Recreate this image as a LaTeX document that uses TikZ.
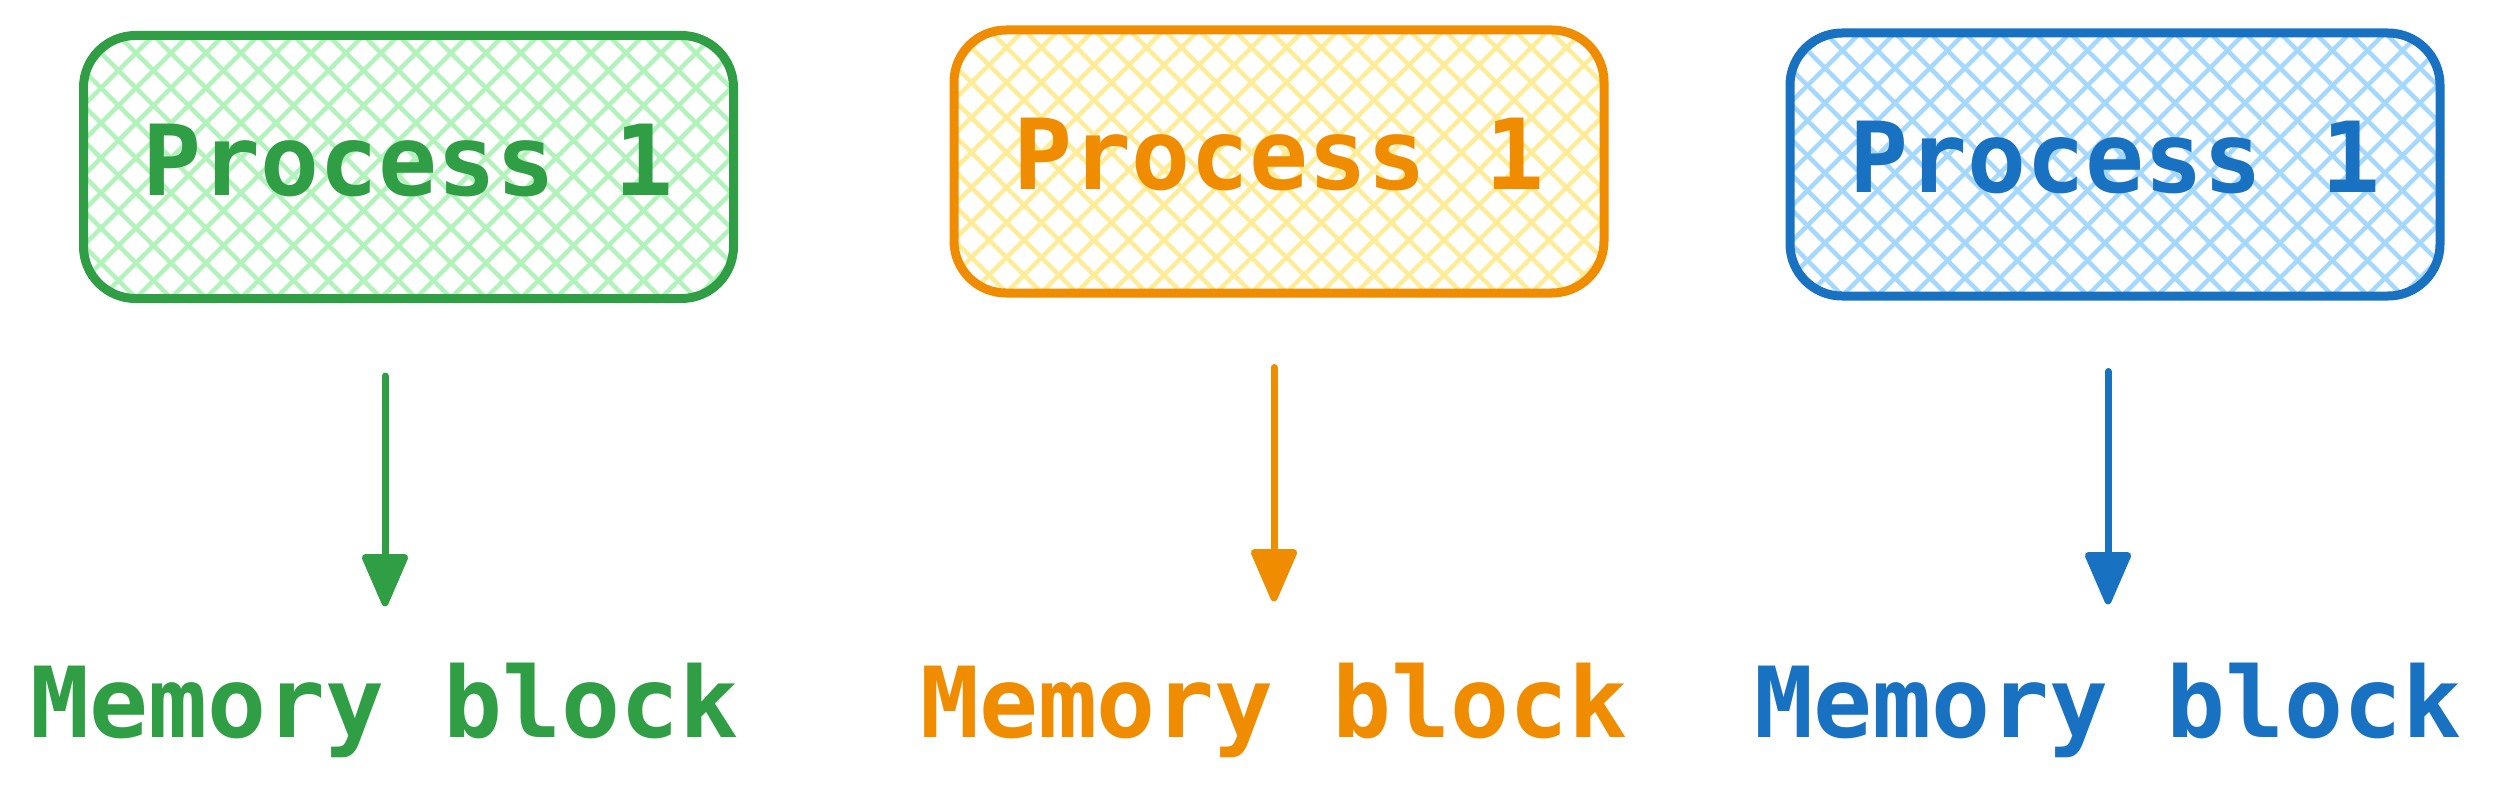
\documentclass[tikz,border=0pt]{standalone}
\usepackage{fontspec}
\newfontfamily\handfamily{DejaVu Sans Mono}
\newcommand\handfont{\handfamily\bfseries\fontsize{98pt}{118pt}\selectfont}
\usetikzlibrary{arrows.meta}
\definecolor{gS}{HTML}{2F9E44}
\definecolor{gH}{HTML}{B2F2BB}
\definecolor{oS}{HTML}{F08C00}
\definecolor{oH}{HTML}{FFEC99}
\definecolor{bS}{HTML}{1971C2}
\definecolor{bH}{HTML}{A5D8FF}
\tikzset{
  hatch/.style={
    path picture={
      \foreach \k in {-10,...,30}{
        \draw[line width=4.5pt,#1] ([xshift=\k*35pt]path picture bounding box.north west) -- ++(320pt,-320pt);
        \draw[line width=4.5pt,#1] ([xshift=\k*35pt]path picture bounding box.north west) -- ++(-320pt,-320pt);
      }}},
  procbox/.style 2 args={draw=#1, line width=9pt, rounded corners=52pt,
    minimum width=650pt, minimum height=263pt, text=#1, font=\handfont,
    text height=73pt, text depth=17pt, inner sep=0pt, hatch=#2},
  memtext/.style={text=#1, font=\handfont, inner sep=0pt, anchor=base},
  conn/.style={draw=#1, line width=7pt, line cap=round,
    -{Triangle[width=48pt,length=58pt,round]}, fill=#1},
}
\begin{document}
\begin{tikzpicture}[x=1pt,y=-1pt]
\useasboundingbox (0,0) rectangle (2496,808);
\node[procbox={gS}{gH}] (p1) at (408.5,167) {Process 1};
\node[procbox={oS}{oH}] (p2) at (1279,161.5) {Process 1};
\node[procbox={bS}{bH}] (p3) at (2115,164.5) {Process 1};
\node[memtext=gS] (m1) at (385,737) {Memory block};
\node[memtext=oS] (m2) at (1274,737) {Memory block};
\node[memtext=bS] (m3) at (2108,737) {Memory block};
\draw[conn=gS, shorten <=73pt, shorten >=56pt] (p1.south -| m1.north) -- (m1.north);
\draw[conn=oS, shorten <=70pt, shorten >=61pt] (p2.south -| m2.north) -- (m2.north);
\draw[conn=bS, shorten <=71pt, shorten >=58pt] (p3.south -| m3.north) -- (m3.north);
\end{tikzpicture}
\end{document}
